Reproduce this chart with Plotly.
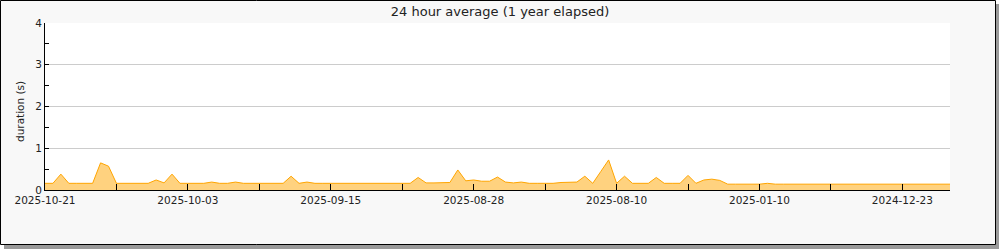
import datetime as dt
import plotly.graph_objects as go

# Daily categories (newest first); the series has a gap between 2025-07-28 and 2025-01-14
recent_start = dt.date(2025, 10, 21)
recent_count = 86
older_start = dt.date(2025, 1, 14)
older_count = 29
dates = [(recent_start - dt.timedelta(days=i)).isoformat() for i in range(recent_count)] + \
        [(older_start - dt.timedelta(days=i)).isoformat() for i in range(older_count)]

# 24 hour average duration in seconds
durations = [
    0.16, 0.16, 0.38, 0.16, 0.16, 0.16, 0.16, 0.65, 0.57, 0.16,
    0.16, 0.16, 0.16, 0.16, 0.24, 0.17, 0.38, 0.16, 0.16, 0.16,
    0.16, 0.19, 0.16, 0.16, 0.19, 0.16, 0.16, 0.16, 0.16, 0.16,
    0.16, 0.33, 0.16, 0.19, 0.16, 0.16, 0.16, 0.16, 0.16, 0.16,
    0.16, 0.16, 0.16, 0.16, 0.16, 0.16, 0.16, 0.30, 0.17, 0.17,
    0.17, 0.18, 0.48, 0.22, 0.24, 0.21, 0.21, 0.31, 0.19, 0.17,
    0.19, 0.16, 0.16, 0.16, 0.16, 0.18, 0.18, 0.19, 0.33, 0.16,
    0.44, 0.72, 0.16, 0.33, 0.16, 0.16, 0.16, 0.30, 0.16, 0.16,
    0.16, 0.35, 0.16, 0.24, 0.26, 0.23, 0.14, 0.14, 0.14, 0.14,
    0.14, 0.16, 0.14, 0.14, 0.14, 0.14, 0.14, 0.14, 0.14, 0.14,
    0.14, 0.14, 0.14, 0.14, 0.14, 0.14, 0.14, 0.14, 0.14, 0.14,
    0.14, 0.14, 0.14, 0.14, 0.14,
]

tick_every = 9
tick_dates = dates[::tick_every]
tick_labels = [d if i % 2 == 0 else "" for i, d in enumerate(tick_dates)]
y_ticks = [0, 1, 2, 3, 4]

W, H = 1000, 250
L, R, T, B = 45, 50, 23, 60
pw, ph = W - L - R, H - T - B


def px_x(p):
    return (p - L) / pw


def px_y(p):
    return (H - B - p) / ph


FONT = "DejaVu Sans"

fig = go.Figure()
fig.add_trace(go.Scatter(
    x=dates, y=durations, mode="lines",
    line=dict(color="#ffa500", width=1),
    fill="tozeroy", fillcolor="#ffd27f",
    hoverinfo="x+y", showlegend=False,
))

shapes = [
    # shadow
    dict(type="rect", xref="paper", yref="paper", layer="below",
         x0=px_x(4), x1=px_x(999), y0=px_y(4), y1=px_y(249),
         fillcolor="#9a9a9a", line=dict(width=0)),
    # box
    dict(type="rect", xref="paper", yref="paper", layer="below",
         x0=px_x(0.5), x1=px_x(995.5), y0=px_y(0.5), y1=px_y(244.5),
         fillcolor="#f8f8f8", line=dict(color="black", width=1)),
    # plot area
    dict(type="rect", xref="paper", yref="paper", layer="below",
         x0=0, x1=1, y0=0, y1=1, fillcolor="white", line=dict(width=0)),
]

fig.update_layout(
    width=W, height=H,
    margin=dict(l=L, r=R, t=T, b=B, pad=0),
    paper_bgcolor="white",
    plot_bgcolor="rgba(0,0,0,0)",
    font=dict(family=FONT, size=10.5, color="#222"),
    title=dict(text="24 hour average (1 year elapsed)", x=0.5, xref="container",
               xanchor="center", y=1 - 11 / H, yref="container", yanchor="middle",
               font=dict(family=FONT, size=13, color="#222")),
    shapes=shapes,
    annotations=[dict(text="duration (s)", xref="paper", yref="paper",
                      x=px_x(20), y=px_y(112), textangle=-90, showarrow=False,
                      xanchor="center", yanchor="middle",
                      font=dict(family=FONT, size=10.5, color="#222"))],
)

fig.update_xaxes(
    type="category", range=[0, len(dates) - 1],
    tickmode="array", tickvals=tick_dates, ticktext=tick_labels,
    ticks="inside", ticklen=6, tickcolor="black", tickwidth=1,
    showline=True, linecolor="black", linewidth=1,
    showgrid=False, zeroline=False, tickangle=0,
    tickfont=dict(family=FONT, size=10.5, color="#222"),
)
fig.update_yaxes(
    range=[0, 4], tickmode="array", tickvals=y_ticks,
    ticktext=[str(v) for v in y_ticks],
    ticks="inside", ticklen=4, tickcolor="black", tickwidth=1,
    minor=dict(dtick=0.5, ticks="inside", ticklen=4, tickcolor="black", showgrid=False),
    showline=True, linecolor="black", linewidth=1,
    showgrid=True, gridcolor="#cccccc", gridwidth=1, zeroline=False,
    tickfont=dict(family=FONT, size=10.5, color="#222"),
)

fig.write_html("out.html")
